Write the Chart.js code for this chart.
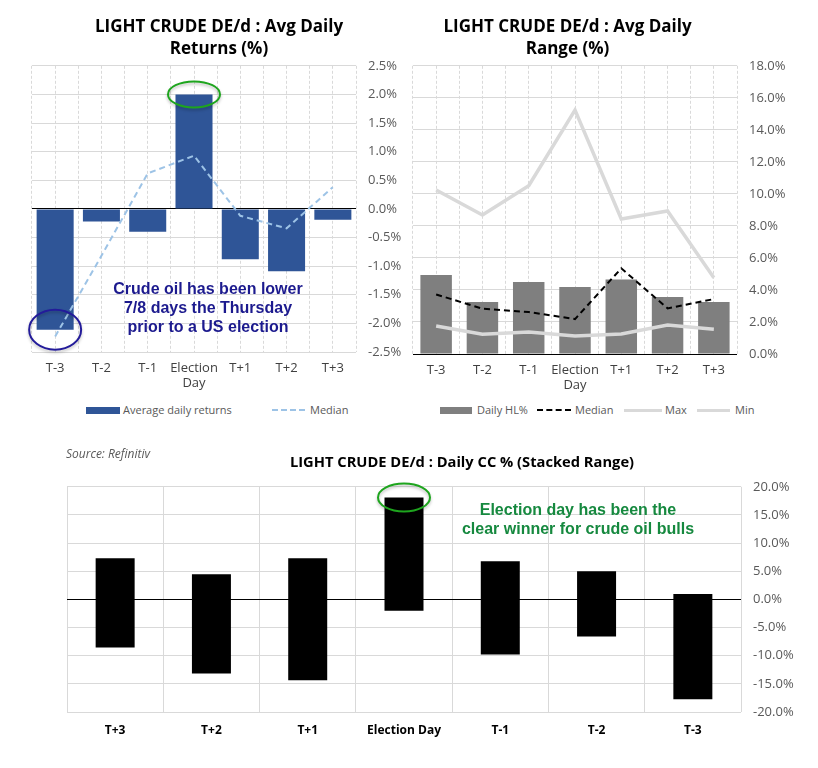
<!DOCTYPE html>
<html>
<head>
<meta charset="utf-8">
<script src="https://cdn.jsdelivr.net/npm/chart.js@4.4.1/dist/chart.umd.min.js"></script>
<style>
  html,body{margin:0;padding:0;background:#fff;}
  body{width:818px;height:768px;position:relative;overflow:hidden;font-family:"Open Sans",sans-serif;}
  canvas{position:absolute;}
  .t{position:absolute;text-align:center;white-space:nowrap;}
  .ttl{font-weight:bold;color:#000;font-size:17px;line-height:22px;}
  .note{font-family:"Liberation Sans",Arial,sans-serif;font-weight:bold;}
  .lg{position:absolute;font-size:11px;color:#595959;line-height:14px;white-space:nowrap;}
  .sw{position:absolute;}
</style>
</head>
<body>
<canvas id="c1" width="410" height="354" style="left:0;top:46px"></canvas>
<canvas id="c2" width="413" height="354" style="left:405px;top:46px"></canvas>
<canvas id="c3" width="818" height="301" style="left:0;top:467px"></canvas>

<div class="t ttl" style="left:0;width:438px;top:15px">LIGHT CRUDE DE/d : Avg Daily<br>Returns (%)</div>
<div class="t ttl" style="left:405px;width:325px;top:15px">LIGHT CRUDE DE/d : Avg Daily<br>Range (%)</div>
<div class="t ttl" style="left:262px;width:400px;top:451px;font-size:14.7px;line-height:20px">LIGHT CRUDE DE/d : Daily CC % (Stacked Range)</div>
<div class="t" style="left:66px;top:445px;font-style:italic;font-size:12px;color:#595959;text-align:left">Source: Refinitiv</div>
<div class="t note" style="left:58px;width:300px;top:279px;font-size:16px;line-height:19px;color:#1c1a8e">Crude oil has been lower<br>7/8 days the Thursday<br>prior to a US election</div>
<div class="t note" style="left:428px;width:300px;top:500px;font-size:16px;line-height:19px;color:#16893f">Election day has been the<br>clear winner for crude oil bulls</div>
<div id="legends"></div>

<script>
// ---------- DATA ----------
const categoriesTop = ['T-3', 'T-2', 'T-1', 'Election Day', 'T+1', 'T+2', 'T+3'];
const avgDailyReturns = [-2.11, -0.22, -0.40, 2.00, -0.88, -1.09, -0.19];
const medianReturns = [-2.23, -0.82, 0.62, 0.93, -0.12, -0.34, 0.38];

const dailyHL = [4.93, 3.25, 4.49, 4.18, 4.66, 3.56, 3.25];
const medianHL = [3.72, 2.83, 2.62, 2.18, 5.35, 2.85, 3.43];
const maxHL = [10.24, 8.68, 10.51, 15.23, 8.43, 8.93, 4.76];
const minHL = [1.75, 1.23, 1.37, 1.12, 1.25, 1.81, 1.54];

const categoriesBottom = ['T+3', 'T+2', 'T+1', 'Election Day', 'T-1', 'T-2', 'T-3'];
const ccLow = [-8.54, -13.14, -14.38, -2.00, -9.78, -6.60, -17.74];
const ccHigh = [7.31, 4.48, 7.31, 18.09, 6.78, 5.01, 0.94];

const returnsTicks = {min: -2.5, max: 2.5, step: 0.5};
const rangeTicks = {min: 0, max: 18, step: 2};
const ccTicks = {min: -20, max: 20, step: 5};

// ---------- HELPERS ----------
const GRID = '#d9d9d9';
const TICK = '#595959';
const pct = v => Number(v).toFixed(1) + '%';
const splitLabel = function(v){ const l = this.getLabelForValue(v); return l === 'Election Day' ? ['Election','Day'] : l; };

function ellipsePlugin(id, items){
  return {
    id: id,
    afterDatasetsDraw(chart){
      const ctx = chart.ctx, xs = chart.scales.x, ys = chart.scales.y;
      items.forEach(it => {
        const cx = xs.getPixelForValue(it.index);
        const cy = ys.getPixelForValue(it.value);
        ctx.save();
        ctx.beginPath();
        ctx.ellipse(cx, cy, it.rx, it.ry, 0, 0, Math.PI*2);
        ctx.lineWidth = 2;
        ctx.strokeStyle = it.color;
        ctx.shadowColor = 'rgba(0,0,0,0.25)';
        ctx.shadowBlur = 3;
        ctx.shadowOffsetY = 2;
        ctx.stroke();
        ctx.restore();
      });
    }
  };
}

Chart.defaults.font.family = '"Open Sans", sans-serif';
Chart.defaults.animation = false;

function centerGridAxis(){
  return {
    type: 'category', position: 'bottom', offset: true,
    grid: {display: true, offset: false, color: GRID, drawTicks: false},
    border: {display: false, dash: [3,2]},
    ticks: {display: false},
    afterFit: s => { s.height = 0; }
  };
}

// ---------- CHART 1 ----------
new Chart(document.getElementById('c1'), {
  data: {
    labels: categoriesTop,
    datasets: [
      {type: 'line', label: 'Median', data: medianReturns, borderColor: '#9dc3e6', borderWidth: 2,
       borderDash: [6,4], pointRadius: 0, fill: false, order: 1, tension: 0},
      {type: 'bar', label: 'Average daily returns', data: avgDailyReturns, backgroundColor: '#2f5597',
       categoryPercentage: 1, barPercentage: 0.8, order: 2}
    ]
  },
  options: {
    responsive: false,
    layout: {padding: {left: 32, top: 1, right: 0, bottom: 0}},
    plugins: {legend: {display: false}, tooltip: {enabled: false}},
    scales: {
      x: {type: 'category', offset: true,
          grid: {display: true, offset: true, color: GRID, drawTicks: false},
          border: {display: false, dash: [3,2]},
          ticks: {color: '#404040', font: {size: 13}, padding: 8, callback: splitLabel, maxRotation: 0, autoSkip: false},
          afterFit: s => { s.height = 48; }},
      x2: centerGridAxis(),
      y: {position: 'right', min: returnsTicks.min, max: returnsTicks.max,
          ticks: {stepSize: returnsTicks.step, callback: pct, color: TICK, font: {size: 13}, padding: 12},
          grid: {color: c => c.tick && c.tick.value === 0 ? '#000' : GRID, drawTicks: false},
          border: {display: false},
          afterFit: s => { s.width = 54; }}
    }
  },
  plugins: [ellipsePlugin('e1', [
    {index: 3, value: avgDailyReturns[3], rx: 26, ry: 13, color: '#1ea51e'},
    {index: 0, value: avgDailyReturns[0], rx: 26, ry: 20, color: '#231b9a'}
  ])]
});

// ---------- CHART 2 ----------
new Chart(document.getElementById('c2'), {
  data: {
    labels: categoriesTop,
    datasets: [
      {type: 'line', label: 'Median', data: medianHL, borderColor: '#000', borderWidth: 2,
       borderDash: [6,4], pointRadius: 0, fill: false, order: 1},
      {type: 'line', label: 'Max', data: maxHL, borderColor: '#d9d9d9', borderWidth: 3.5,
       pointRadius: 0, fill: false, order: 2},
      {type: 'line', label: 'Min', data: minHL, borderColor: '#d9d9d9', borderWidth: 3.5,
       pointRadius: 0, fill: false, order: 1},
      {type: 'bar', label: 'Daily HL%', data: dailyHL, backgroundColor: '#7f7f7f',
       categoryPercentage: 1, barPercentage: 0.68, order: 3}
    ]
  },
  options: {
    responsive: false,
    layout: {padding: {left: 8, top: 1, right: 0, bottom: 0}},
    plugins: {legend: {display: false}, tooltip: {enabled: false}},
    scales: {
      x: {type: 'category', offset: true,
          grid: {display: true, offset: true, color: GRID, drawTicks: false},
          border: {display: false, dash: [3,2]},
          ticks: {color: '#404040', font: {size: 13}, padding: 8, callback: splitLabel, maxRotation: 0, autoSkip: false},
          afterFit: s => { s.height = 46; }},
      x2: centerGridAxis(),
      y: {position: 'right', min: rangeTicks.min, max: rangeTicks.max,
          ticks: {stepSize: rangeTicks.step, callback: pct, color: TICK, font: {size: 13}, padding: 12},
          grid: {color: c => c.tick && c.tick.value === 0 ? '#000' : GRID, drawTicks: false},
          border: {display: false},
          afterFit: s => { s.width = 81; }}
    }
  }
});

// ---------- CHART 3 ----------
new Chart(document.getElementById('c3'), {
  type: 'bar',
  data: {
    labels: categoriesBottom,
    datasets: [
      {label: 'Daily CC %', data: ccLow.map((lo, i) => [lo, ccHigh[i]]), backgroundColor: '#000',
       categoryPercentage: 1, barPercentage: 0.405}
    ]
  },
  options: {
    responsive: false,
    layout: {padding: {left: 67, top: 1, right: 0, bottom: 0}},
    plugins: {legend: {display: false}, tooltip: {enabled: false}},
    scales: {
      x: {offset: true,
          grid: {display: true, offset: true, color: GRID, drawTicks: false},
          border: {display: false},
          ticks: {color: '#000', font: {size: 12, weight: 'bold'}, padding: 11, maxRotation: 0, autoSkip: false},
          afterFit: s => { s.height = 56; }},
      y: {position: 'right', min: ccTicks.min, max: ccTicks.max,
          ticks: {stepSize: ccTicks.step, callback: pct, color: TICK, font: {size: 13}, padding: 12},
          grid: {color: c => c.tick && c.tick.value === 0 ? '#000' : GRID, drawTicks: false},
          border: {display: false},
          afterFit: s => { s.width = 77; }}
    }
  },
  plugins: [ellipsePlugin('e3', [
    {index: 3, value: ccHigh[3], rx: 26, ry: 14, color: '#1ea51e'}
  ])]
});

// ---------- LEGENDS (HTML) ----------
const legendDefs = [
  {label: 'Average daily returns', kind: 'rect', color: '#2f5597', x: 86, tx: 123, w: 34},
  {label: 'Median', kind: 'dash', color: '#9dc3e6', x: 272, tx: 310, w: 33},
  {label: 'Daily HL%', kind: 'rect', color: '#7f7f7f', x: 440, tx: 477, w: 32},
  {label: 'Median', kind: 'dash', color: '#000', x: 537, tx: 575, w: 34},
  {label: 'Max', kind: 'line', color: '#d9d9d9', x: 624, tx: 665, w: 38},
  {label: 'Min', kind: 'line', color: '#d9d9d9', x: 697, tx: 735, w: 33}
];
const lgRoot = document.getElementById('legends');
legendDefs.forEach(d => {
  const sw = document.createElement('div');
  sw.className = 'sw';
  sw.style.left = d.x + 'px';
  sw.style.width = d.w + 'px';
  if (d.kind === 'rect') { sw.style.top = '407px'; sw.style.height = '7px'; sw.style.background = d.color; }
  else if (d.kind === 'dash') { sw.style.top = '409px'; sw.style.height = '0'; sw.style.borderTop = '2px dashed ' + d.color; }
  else { sw.style.top = '409px'; sw.style.height = '3px'; sw.style.background = d.color; }
  lgRoot.appendChild(sw);
  const t = document.createElement('div');
  t.className = 'lg';
  t.style.left = d.tx + 'px';
  t.style.top = '403px';
  t.textContent = d.label;
  lgRoot.appendChild(t);
});
</script>
</body>
</html>
